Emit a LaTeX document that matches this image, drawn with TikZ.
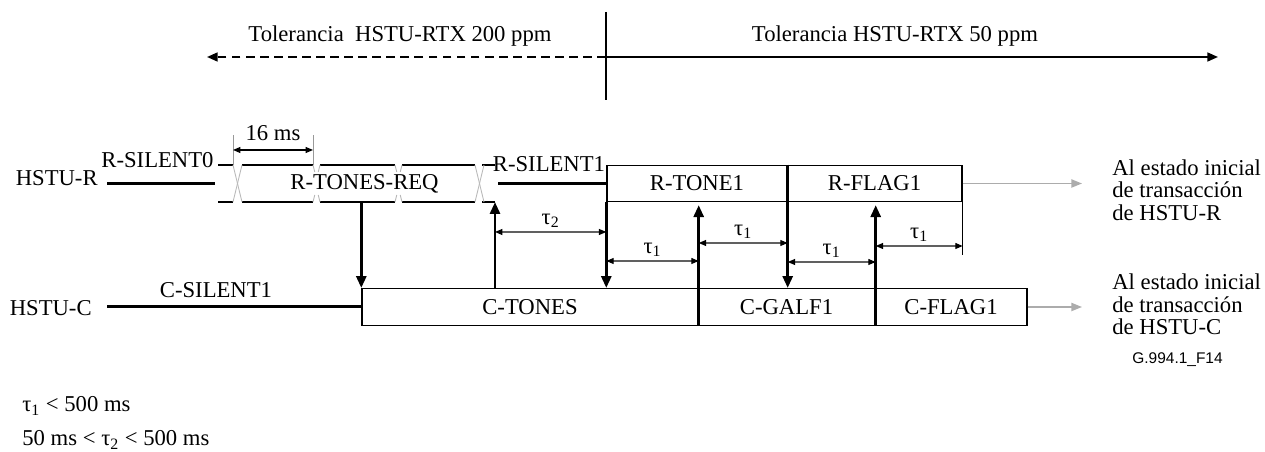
\documentclass[tikz,border=0pt]{standalone}
\usepackage{fontspec}
\setmainfont{Liberation Serif}
\newfontfamily\figsans{Liberation Sans}
\usetikzlibrary{arrows.meta,calc,positioning}

\begin{document}
\begin{tikzpicture}[
  >={Triangle[length=6.8pt,width=5.6pt]},
  font=\fontsize{12.9pt}{12.8pt}\selectfont,
  every node/.style={inner sep=0pt},
  signal/.style={line width=1.7pt},
  trigger/.style={signal, ->},
  frame/.style={draw, line width=0.8pt, minimum height=0.73cm},
  band/.style={minimum height=0.74cm},
  edge/.style={line width=1.1pt},
  gapmark/.style={gray!55, line width=0.5pt},
  dimline/.style={gray!75!black, line width=0.6pt, >={Triangle[length=4.2pt,width=3.4pt,color=black]}, <->},
  initarrow/.style={gray!65, line width=0.9pt, -{Triangle[length=6pt,width=4.6pt]}, shorten >=0.6cm},
  tolarrow/.style={line width=1.1pt, >={Triangle[length=6pt,width=5pt]}, ->},
  tau/.style={midway, above=2pt, text=black},
  endnote/.style={anchor=west, align=left}
]
\useasboundingbox (0,0) rectangle (25.30,9.04);

% tolerance ranges
\coordinate (split) at (12.12,7.90);
\coordinate (tolLend) at (4.14,7.90);
\coordinate (tolRend) at (24.36,7.90);
\node[anchor=base] (tolL) at (8.00,8.20) {Tolerancia\ \ HSTU-RTX 200 ppm};
\node[anchor=base] (tolR) at (17.90,8.20) {Tolerancia HSTU-RTX 50 ppm};
\draw[line width=1.7pt] ($(split)+(0,0.90)$) -- ($(split)+(0,-0.86)$);
\draw[tolarrow, dash pattern=on 5pt off 3pt] (split) -- (tolLend);
\draw[tolarrow] (split) -- (tolRend);

% HSTU-R
\node[anchor=base east] (hsr) at (1.96,5.32) {HSTU-R};
\node[anchor=base] (rsil0) at (3.15,5.68) {R-SILENT0};
\node[band] (rreq) at (7.29,5.37) {R-TONES-REQ};
\node[anchor=base] (rsil1) at (10.98,5.60) {R-SILENT1};
\node[frame, minimum width=3.60cm] (rtone) at (13.94,5.37) {R-TONE1};
\node[frame, minimum width=3.50cm] (rflag) at (17.49,5.37) {R-FLAG1};
\node[endnote] (rinit) at (22.24,5.24) {Al estado inicial\\de transacción\\de HSTU-R};

\coordinate (r0end) at (4.30,5.37);
\coordinate (r1start) at (9.96,5.37);
\coordinate (rreqend) at (9.90,5.00);
\draw[signal] ($(hsr.east |- rreq.west)+(0.18,0)$) -- (r0end);
\draw[signal] (r1start) -- (rtone.west);

\foreach \y in {5.00,5.74} {
  \draw[edge] (4.36,\y) -- (4.66,\y);
  \draw[edge] (4.84,\y) -- (6.26,\y);
  \draw[edge] (6.40,\y) -- (7.90,\y);
  \draw[edge] (8.04,\y) -- (9.50,\y);
  \draw[edge] (9.64,\y) -- (9.90,\y);
}
\foreach \x in {4.66,9.50} {
  \draw[gapmark] (\x,5.74) -- (\x+0.18,5.00);
  \draw[gapmark] (\x+0.18,5.74) -- (\x,5.00);
}
\foreach \x in {6.26,7.90} {
  \draw[gapmark] (\x,5.74) -- ++(0.035,-0.14) (\x+0.14,5.74) -- ++(-0.035,-0.14);
  \draw[gapmark] (\x,5.00) -- ++(0.035,0.14) (\x+0.14,5.00) -- ++(-0.035,0.14);
}

% 16 ms
\coordinate (ms16a) at (4.66,5.74);
\coordinate (ms16b) at (6.26,5.74);
\draw[gapmark, gray!80] (ms16a) -- ++(0,0.60);
\draw[gapmark, gray!80] (ms16b) -- ++(0,0.60);
\draw[dimline, black] ($(ms16a)+(0,0.30)$) -- ($(ms16b)+(0,0.30)$) node[midway, above=5pt] (ms16) {16 ms};

% HSTU-C
\node[anchor=base east] (hsc) at (1.84,2.72) {HSTU-C};
\node[anchor=base] (csil1) at (4.32,3.08) {C-SILENT1};
\node[frame, minimum width=6.72cm] (ctones) at (10.60,2.90) {C-TONES};
\node[frame, minimum width=3.54cm] (cgalf) at (15.73,2.90) {C-GALF1};
\node[frame, minimum width=3.04cm] (cflag) at (19.02,2.90) {C-FLAG1};
\node[endnote] (cinit) at (22.24,2.95) {Al estado inicial\\de transacción\\de HSTU-C};
\draw[signal] ($(hsc.east |- ctones.west)+(0.30,0)$) -- (ctones.west);

\draw[initarrow] (rflag.east) -- (rflag.east -| rinit.west);
\draw[initarrow] (cflag.east) -- (cflag.east -| cinit.west);

% handshake
\draw[trigger] (rreq.south -| ctones.north west) -- (ctones.north west);
\draw[trigger] (rreqend |- ctones.north) -- (rreqend);
\draw[trigger] (rtone.south west) -- (rtone.south west |- ctones.north);
\draw[trigger, shorten >=1.5pt] (ctones.south east) -- (ctones.south east |- rtone.south);
\draw[trigger] (rtone.north east) -- (rtone.north east |- cgalf.north);
\draw[trigger, shorten >=1.5pt] (cgalf.south east) -- (cgalf.south east |- rflag.south);

% timing
\draw[dimline] ($(rreqend)+(0,-0.60)$) -- ($(rtone.west |- rreqend)+(0,-0.60)$) node[tau] (tau2) {τ\textsubscript{2}};
\draw[dimline] ($(rtone.west |- rreqend)+(0,-1.18)$) -- ($(ctones.east |- rreqend)+(0,-1.18)$) node[tau] (tau1a) {τ\textsubscript{1}};
\draw[dimline] ($(ctones.east |- rreqend)+(0,-0.82)$) -- ($(rtone.east |- rreqend)+(0,-0.82)$) node[tau] (tau1b) {τ\textsubscript{1}};
\draw[dimline] ($(rtone.east |- rreqend)+(0,-1.20)$) -- ($(cgalf.east |- rreqend)+(0,-1.20)$) node[tau] (tau1c) {τ\textsubscript{1}};
\draw[dimline] ($(cgalf.east |- rreqend)+(0,-0.88)$) -- ($(rflag.east |- rreqend)+(0,-0.88)$) node[tau] (tau1d) {τ\textsubscript{1}};
\draw[line width=0.6pt] (rflag.south east) -- ++(0,-1.06);

% conditions
\node[anchor=base west] (cond1) at (0.44,0.80) {τ\textsubscript{1} < 500 ms};
\node[anchor=base west] (cond2) at (0.44,0.12) {50 ms < τ\textsubscript{2} < 500 ms};
\node[anchor=east, font=\figsans\fontsize{8.8pt}{10pt}\selectfont] (figid) at (24.46,1.84) {G.994.1\_F14};
\end{tikzpicture}
\end{document}
